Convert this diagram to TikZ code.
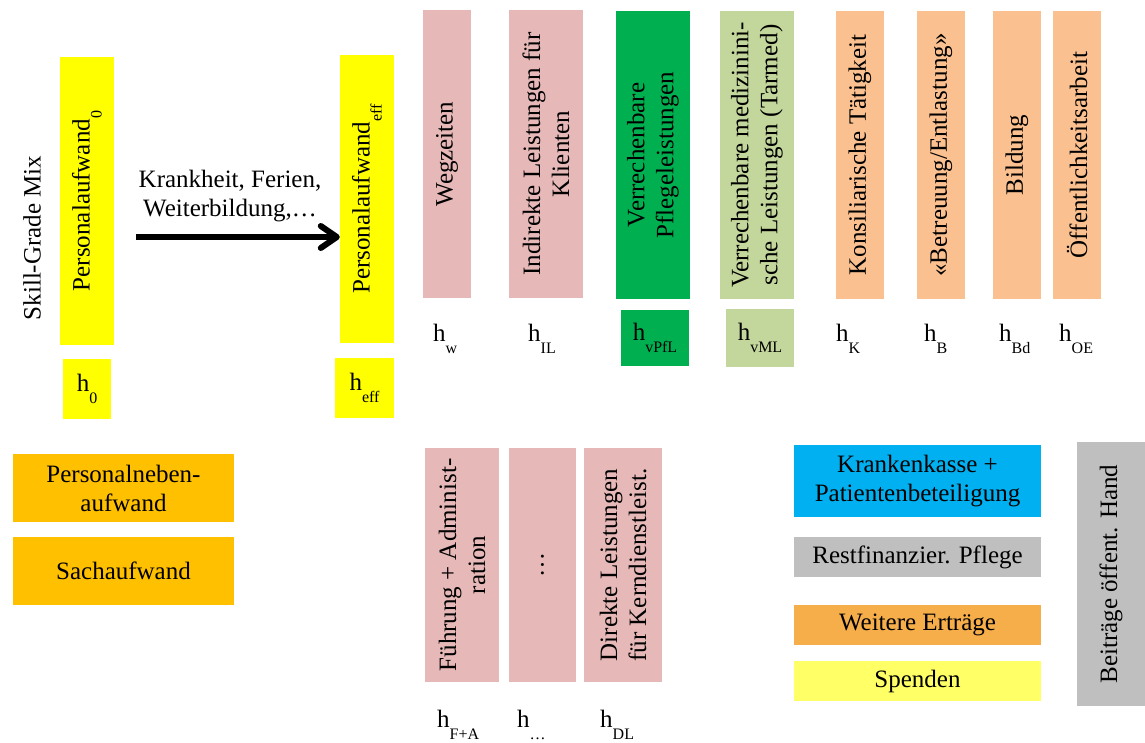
\documentclass[tikz,border=0pt]{standalone}
\usepackage{fontspec}
\setmainfont{Liberation Serif}
\usetikzlibrary{arrows.meta,positioning}
\definecolor{gelb}{HTML}{FFFF00}
\definecolor{rosa}{HTML}{E6B8B7}
\definecolor{gruen}{HTML}{00B050}
\definecolor{hellgruen}{HTML}{C3D69B}
\definecolor{pfirsich}{HTML}{FAC090}
\definecolor{orange}{HTML}{FFC000}
\definecolor{blau}{HTML}{00B0F0}
\definecolor{grau}{HTML}{BFBFBF}
\definecolor{hellorange}{HTML}{F6AE4A}
\definecolor{hellgelb}{HTML}{FFFF66}
\newcommand{\tief}[1]{\raisebox{-0.48em}{\fontsize{16}{16}\selectfont #1}}
\tikzset{
  vbox/.style={rotate=90, inner sep=0pt, align=center},
  hbox/.style={inner sep=0pt, align=center},
  hlabel/.style={inner sep=0pt, anchor=base west}
}

\begin{document}
\begin{tikzpicture}[x=1pt,y=-1pt]
    \tikzstyle{every node}+=[font=\fontsize{25}{29}\selectfont]
    \useasboundingbox (0,0) rectangle (1145,742);
    % Personalaufwand links
    \node [vbox] (sgm) at (32,238) {Skill-Grade Mix};
    \node [vbox, fill=gelb, minimum width=288pt, minimum height=54pt] (pa0) at (87,201) {Personalaufwand\tief{0}};
    \node [hbox, fill=gelb, minimum width=48pt, minimum height=60pt] (h0) at (87,389) {h\tief{0}};
    \node [hbox] (krank) at (230,196) {Krankheit, Ferien,\\Weiterbildung,\dots};
    \node [vbox, fill=gelb, minimum width=288pt, minimum height=54pt] (paeff) at (367,199) {Personalaufwand\tief{eff}};
    \node [hbox, fill=gelb, minimum width=59pt, minimum height=60pt] (heff) at (364.5,388) {h\tief{eff}};
    \coordinate (pfeil) at (136,237);
    \draw [line width=6pt, -{Straight Barb[length=16pt,width=22pt,line cap=round,line join=round]}] (pfeil) -- (pfeil -| paeff.north);
    % Leistungen oben
    \node [vbox, fill=rosa, minimum width=288pt, minimum height=48pt] (weg) at (447,154) {Wegzeiten};
    \node [vbox, fill=rosa, minimum width=288pt, minimum height=74pt] (ind) at (546,154) {Indirekte Leistungen für\\Klienten};
    \node [vbox, fill=gruen, minimum width=288pt, minimum height=74pt] (vpfl) at (653,155) {Verrechenbare\\Pflegeleistungen};
    \node [vbox, fill=hellgruen, minimum width=288pt, minimum height=74pt] (vml) at (757,155) {Verrechenbare medizinini-\\sche Leistungen (Tarmed)};
    \node [vbox, fill=pfirsich, minimum width=288pt, minimum height=48pt] (kons) at (860,155) {Konsiliarische Tätigkeit};
    \node [vbox, fill=pfirsich, minimum width=288pt, minimum height=48pt] (betr) at (941,155) {«Betreuung/Entlastung»};
    \node [vbox, fill=pfirsich, minimum width=288pt, minimum height=48pt] (bild) at (1017,155) {Bildung};
    \node [vbox, fill=pfirsich, minimum width=288pt, minimum height=48pt] (oeff) at (1077,155) {Öffentlichkeitsarbeit};
    % Stunden
    \node [hlabel] (hw) at (433,341) {h\tief{w}};
    \node [hlabel] (hil) at (528,341) {h\tief{IL}};
    \node [hbox, fill=gruen, minimum width=68pt, minimum height=56pt] (hvpfl) at (655,338) {h\tief{vPfL}};
    \node [hbox, fill=hellgruen, minimum width=68pt, minimum height=58pt] (hvml) at (760,338) {h\tief{vML}};
    \node [hlabel] (hk) at (836,341) {h\tief{K}};
    \node [hlabel] (hb) at (924,341) {h\tief{B}};
    \node [hlabel] (hbd) at (999,341) {h\tief{Bd}};
    \node [hlabel] (hoe) at (1059,341) {h\tief{OE}};
    % Aufwand
    \node [hbox, fill=orange, minimum width=221pt, minimum height=68pt] (pnaw) at (123.5,488) {Personalneben-\\aufwand};
    \node [hbox, fill=orange, minimum width=221pt, minimum height=68pt] (sach) at (123.5,571) {Sachaufwand};
    % Leistungen unten
    \node [vbox, fill=rosa, minimum width=234pt, minimum height=74pt] (fa) at (462,565) {Führung + Administ-\\ration};
    \node [vbox, fill=rosa, minimum width=234pt, minimum height=67pt] (dots) at (542.5,565) {\dots};
    \node [vbox, fill=rosa, minimum width=234pt, minimum height=78pt] (dl) at (623,565) {Direkte Leistungen\\für Kerndienstleist.};
    \node [hlabel] (hfa) at (437,727) {h\tief{F+A}};
    \node [hlabel] (hdots) at (517,727) {h\tief{\dots}};
    \node [hlabel] (hdl) at (600,727) {h\tief{DL}};
    % Ertraege
    \node [hbox, fill=blau, minimum width=247pt, minimum height=72pt] (kk) at (917.5,481) {Krankenkasse +\\Patientenbeteiligung};
    \node [hbox, fill=grau, minimum width=247pt, minimum height=40pt] (rest) at (917.5,557) {Restfinanzier. Pflege};
    \node [hbox, fill=hellorange, minimum width=247pt, minimum height=40pt] (we) at (917.5,625) {Weitere Erträge};
    \node [hbox, fill=hellgelb, minimum width=247pt, minimum height=40pt] (sp) at (917.5,681) {Spenden};
    \node [vbox, fill=grau, minimum width=264pt, minimum height=68pt] (beit) at (1111,574) {Beiträge öffent. Hand};
\end{tikzpicture}
\end{document}
